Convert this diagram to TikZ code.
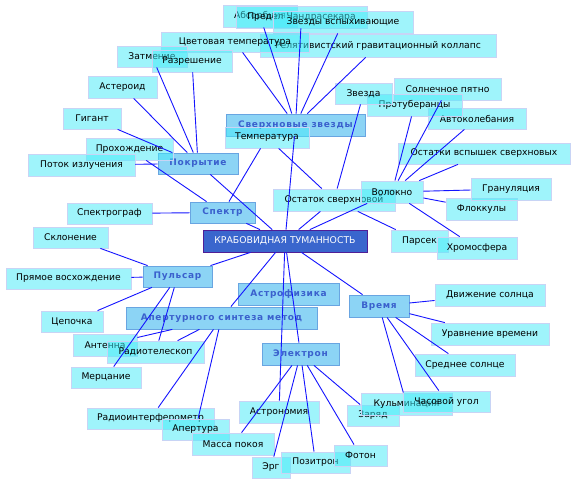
\documentclass[tikz,border=0pt]{standalone}
\usepackage{fontspec}
\setmainfont{DejaVu Sans}
\newfontfamily\catfont[LetterSpace=8]{DejaVu Sans}
\definecolor{leaffill}{RGB}{65,235,249}
\definecolor{leafborder}{RGB}{200,212,245}
\definecolor{catfill}{RGB}{128,208,245}
\definecolor{catborder}{RGB}{105,165,225}
\definecolor{cattext}{RGB}{58,96,205}
\definecolor{mainfill}{RGB}{58,102,205}
\definecolor{mainborder}{RGB}{80,30,150}
\definecolor{linec}{RGB}{20,20,255}
\tikzset{
  leaf/.style={draw=leafborder, line width=0.8pt, fill=leaffill, fill opacity=0.5, text opacity=1, draw opacity=1, inner sep=0pt, text=black, font=\fontsize{9.2}{10}\selectfont},
  cat/.style={draw=catborder, line width=0.8pt, fill=catfill, fill opacity=0.9, text opacity=1, draw opacity=1, inner sep=0pt, text=cattext, font=\catfont\bfseries\fontsize{9}{10}\selectfont},
  mainnode/.style={draw=mainborder, line width=0.8pt, fill=mainfill, inner sep=0pt, text=white, font=\fontsize{9.3}{10}\selectfont},
  conn/.style={draw=linec, line width=0.9pt}
}
\begin{document}
\begin{tikzpicture}[x=1pt,y=-1pt]
\useasboundingbox[fill=white] (0,0) rectangle (576,484);
% categories and main
\node[mainnode, minimum width=164pt, minimum height=22pt] (crab) at (285,241) {КРАБОВИДНАЯ ТУМАННОСТЬ};
\node[cat, minimum width=80pt, minimum height=21pt] (occult) at (198,163.5) {Покрытие};
\node[cat, minimum width=139pt, minimum height=22pt] (supernova) at (295.5,125) {Сверхновые звезды};
\node[cat, minimum width=65pt, minimum height=21pt] (spectrum) at (222.5,212.5) {Спектр};
\node[cat, minimum width=69pt, minimum height=21pt] (pulsar) at (177.5,276.5) {Пульсар};
\node[cat, minimum width=101pt, minimum height=22pt] (astrophys) at (288.5,294) {Астрофизика};
\node[cat, minimum width=191pt, minimum height=22pt] (apsyn) at (221.5,318) {Апертурного синтеза метод};
\node[cat, minimum width=77pt, minimum height=22pt] (electron) at (300.5,354) {Электрон};
\node[cat, minimum width=60pt, minimum height=22pt] (time) at (379,306) {Время};
% leaves
\node[leaf, minimum width=74pt, minimum height=22pt] (absorb) at (260,16) {Абсорбция};
\node[leaf, minimum width=131pt, minimum height=22pt] (chandra) at (301.5,17) {Предел Чандрасекара};
\node[leaf, minimum width=140pt, minimum height=22pt] (flare) at (343,22) {Звезды вспыхивающие};
\node[leaf, minimum width=236pt, minimum height=23pt] (collapse) at (378,45.5) {Релятивистский гравитационный коллапс};
\node[leaf, minimum width=148pt, minimum height=20pt] (colortemp) at (235,42) {Цветовая температура};
\node[leaf, minimum width=70pt, minimum height=21pt] (eclipse) at (152,56.5) {Затмение};
\node[leaf, minimum width=80pt, minimum height=22pt] (resolution) at (192,61) {Разрешение};
\node[leaf, minimum width=69pt, minimum height=22pt] (asteroid) at (122.5,87) {Астероид};
\node[leaf, minimum width=58pt, minimum height=21pt] (giant) at (92,118.5) {Гигант};
\node[leaf, minimum width=87pt, minimum height=22pt] (transit) at (129.5,149) {Прохождение};
\node[leaf, minimum width=107pt, minimum height=22pt] (flux) at (81.5,165) {Поток излучения};
\node[leaf, minimum width=84pt, minimum height=21pt] (temp) at (267,137.5) {Температура};
\node[leaf, minimum width=85pt, minimum height=21pt] (spectrograph) at (109.5,213.5) {Спектрограф};
\node[leaf, minimum width=75pt, minimum height=21pt] (decl) at (70.5,237.5) {Склонение};
\node[leaf, minimum width=125pt, minimum height=21pt] (ra) at (68.5,278.5) {Прямое восхождение};
\node[leaf, minimum width=62pt, minimum height=21pt] (chain) at (72,321.5) {Цепочка};
\node[leaf, minimum width=64pt, minimum height=22pt] (antenna) at (105,345) {Антенна};
\node[leaf, minimum width=97pt, minimum height=22pt] (radiotel) at (155.5,352) {Радиотелескоп};
\node[leaf, minimum width=70pt, minimum height=21pt] (twinkle) at (106,377.5) {Мерцание};
\node[leaf, minimum width=127pt, minimum height=21pt] (interf) at (150.5,418.5) {Радиоинтерферометр};
\node[leaf, minimum width=67pt, minimum height=21pt] (aperture) at (195.5,429.5) {Апертура};
\node[leaf, minimum width=82pt, minimum height=22pt] (restmass) at (233,444) {Масса покоя};
\node[leaf, minimum width=80pt, minimum height=22pt] (astronomy) at (279,412) {Астрономия};
\node[leaf, minimum width=38pt, minimum height=21pt] (erg) at (271,467.5) {Эрг};
\node[leaf, minimum width=69pt, minimum height=21pt] (positron) at (315.5,462.5) {Позитрон};
\node[leaf, minimum width=53pt, minimum height=21pt] (photon) at (360.5,455.5) {Фотон};
\node[leaf, minimum width=52pt, minimum height=21pt] (charge) at (373,415.5) {Заряд};
\node[leaf, minimum width=91pt, minimum height=22pt] (culm) at (406.5,404) {Кульминация};
\node[leaf, minimum width=87pt, minimum height=21pt] (hourangle) at (446.5,401.5) {Часовой угол};
\node[leaf, minimum width=100pt, minimum height=22pt] (meansun) at (465,365) {Среднее солнце};
\node[leaf, minimum width=118pt, minimum height=22pt] (eqtime) at (490,334) {Уравнение времени};
\node[leaf, minimum width=110pt, minimum height=22pt] (sunmotion) at (490,295) {Движение солнца};
\node[leaf, minimum width=57pt, minimum height=22pt] (parsec) at (419.5,241) {Парсек};
\node[leaf, minimum width=80pt, minimum height=22pt] (chromo) at (477,248) {Хромосфера};
\node[leaf, minimum width=71pt, minimum height=22pt] (flocculi) at (481.5,209) {Флоккулы};
\node[leaf, minimum width=80pt, minimum height=22pt] (granul) at (511,189) {Грануляция};
\node[leaf, minimum width=122pt, minimum height=22pt] (remnant) at (334,200) {Остаток сверхновой};
\node[leaf, minimum width=62pt, minimum height=22pt] (filament) at (392,192) {Волокно};
\node[leaf, minimum width=172pt, minimum height=21pt] (snrem) at (484,153.5) {Остатки вспышек сверхновых};
\node[leaf, minimum width=98pt, minimum height=21pt] (autoosc) at (477,118.5) {Автоколебания};
\node[leaf, minimum width=107pt, minimum height=22pt] (sunspot) at (447.5,89) {Солнечное пятно};
\node[leaf, minimum width=95pt, minimum height=22pt] (prominence) at (414.5,105) {Протуберанцы};
\node[leaf, minimum width=57pt, minimum height=21pt] (star) at (363.5,93.5) {Звезда};
% connectors
\foreach \a/\b in {supernova/absorb, supernova/chandra, supernova/flare, supernova/collapse, supernova/colortemp, crab/supernova,
  occult/eclipse, occult/resolution, occult/asteroid, occult/giant, occult/flux, crab/occult,
  spectrum/transit, spectrum/temp, spectrum/spectrograph, crab/spectrum,
  temp/remnant, star/remnant, crab/remnant, remnant/parsec,
  filament/snrem, filament/granul, filament/flocculi, filament/chromo, filament/prominence, filament/sunspot, filament/autoosc, crab/filament,
  pulsar/decl, pulsar/ra, pulsar/chain, pulsar/twinkle, pulsar/radiotel, crab/pulsar,
  apsyn/antenna, apsyn/radiotel, apsyn/interf, apsyn/aperture, crab/apsyn,
  crab/astronomy, crab/electron,
  electron/restmass, electron/erg, electron/positron, electron/photon, electron/charge,
  time/sunmotion, time/eqtime, time/meansun, time/hourangle, time/culm, crab/time}
  \draw[conn] (\a) -- (\b);
\end{tikzpicture}
\end{document}
